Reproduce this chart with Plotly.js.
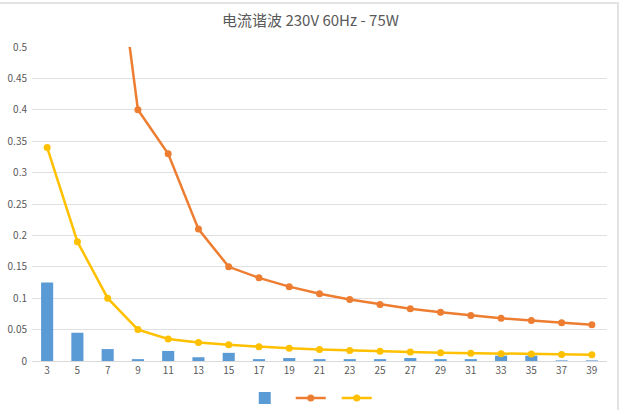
<!DOCTYPE html>
<html>
<head>
<meta charset="utf-8">
<script src="https://cdn.plot.ly/plotly-3.0.1.min.js"></script>
<style>
html,body{margin:0;padding:0;background:#fff;}
#wrap{position:relative;width:621px;height:410px;}
#chart{position:absolute;left:0;top:0;width:621px;height:410px;}
#frame{position:absolute;left:-2px;top:2px;width:619px;height:420px;border-top:2px solid #e3e3e3;border-right:2px solid #e3e3e3;pointer-events:none;}
</style>
</head>
<body>
<div id="wrap"><div id="chart"></div><div id="frame"></div></div>
<script>
const titleText = "电流谐波 230V 60Hz - 75W";
const harmonics = ["3","5","7","9","11","13","15","17","19","21","23","25","27","29","31","33","35","37","39"];
const measured = [0.125,0.045,0.019,0.003,0.016,0.006,0.013,0.003,0.0047,0.003,0.003,0.003,0.0047,0.003,0.003,0.0085,0.0085,0.001,0.001];
const limitA = [2.30,1.14,0.77,0.40,0.33,0.21,0.15,0.1324,0.1184,0.107,0.0978,0.09,0.0833,0.0776,0.0726,0.0682,0.0643,0.0608,0.0577];
const limitD = [0.34,0.19,0.10,0.05,0.035,0.0296,0.0257,0.0227,0.0203,0.0183,0.0167,0.0154,0.0143,0.0133,0.0124,0.0117,0.011,0.0104,0.0099];
const yTicks = [0,0.05,0.1,0.15,0.2,0.25,0.3,0.35,0.4,0.45,0.5];

const font = "'Noto Sans CJK SC', 'Open Sans', sans-serif";
const data = [
  {type:"bar", x:harmonics, y:measured, name:"", marker:{color:"#5B9BD5"}},
  {type:"scatter", mode:"lines+markers", x:harmonics, y:limitA, name:"",
   line:{color:"#ED7D31", width:2.5}, marker:{color:"#ED7D31", size:7}},
  {type:"scatter", mode:"lines+markers", x:harmonics, y:limitD, name:"",
   line:{color:"#FFC000", width:2.5}, marker:{color:"#FFC000", size:7}}
];
const layout = {
  width:621, height:410,
  margin:{l:32, r:14, t:47, b:49, autoexpand:false},
  paper_bgcolor:"#fff", plot_bgcolor:"#fff",
  title:{text:titleText, x:0.5, xanchor:"center", y:0.95, yanchor:"middle",
         font:{family:font, size:15, color:"#595959"}},
  bargap:0.6,
  showlegend:true,
  legend:{orientation:"h", x:0.49, xanchor:"center", y:-0.118, yanchor:"middle",
          font:{size:2, color:"#595959"}, entrywidth:1, entrywidthmode:"pixels", itemwidth:30, tracegroupgap:0},
  xaxis:{type:"category", range:[-0.5, harmonics.length-0.5], showgrid:false, showline:true, linecolor:"#d9d9d9", linewidth:1,
         ticks:"", tickfont:{family:font, size:10, color:"#595959"}, automargin:false, fixedrange:true},
  yaxis:{range:[0,0.5], tickvals:yTicks, ticktext:yTicks.map(String), showgrid:true,
         gridcolor:"#e0e0e0", gridwidth:1, zeroline:false, showline:false, ticks:"",
         tickfont:{family:font, size:10, color:"#595959"}, ticklabelstandoff:4, automargin:false, fixedrange:true}
};
Plotly.newPlot("chart", data, layout, {displayModeBar:false, staticPlot:true});
</script>
</body>
</html>
